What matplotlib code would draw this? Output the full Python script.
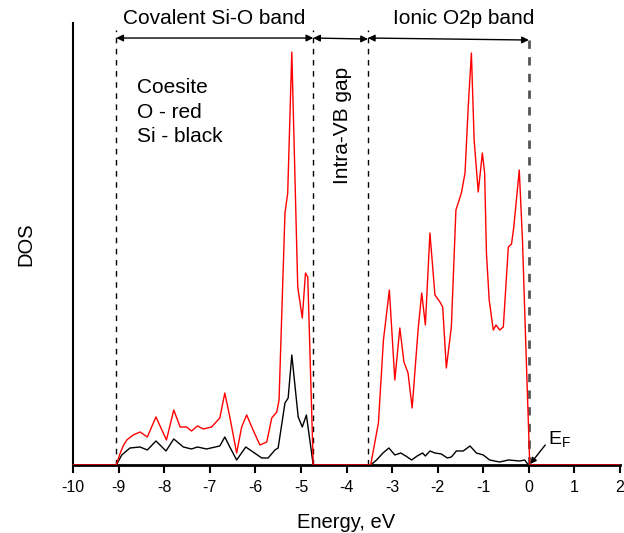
import numpy as np
import matplotlib
matplotlib.use('Agg')
import matplotlib.pyplot as plt

plt.rcParams['font.family'] = ['Liberation Sans', 'DejaVu Sans']
plt.rcParams['axes.unicode_minus'] = False

# O partial DOS (red), arbitrary units
energy_o = [-10.0, -9.05, -8.98, -8.90, -8.82, -8.68, -8.53, -8.37, -8.18, -7.95, -7.79, -7.65, -7.51,
            -7.40, -7.27, -7.14, -6.96, -6.78, -6.67, -6.56, -6.41, -6.30, -6.19, -6.05,
            -5.90, -5.75, -5.64, -5.53, -5.48, -5.35, -5.29, -5.20, -5.07, -4.97, -4.90,
            -4.85, -4.73,
            -3.47, -3.30, -3.19, -3.06, -2.94, -2.83, -2.74, -2.65, -2.56, -2.43, -2.35,
            -2.27, -2.17, -2.06, -1.95, -1.89, -1.81, -1.70, -1.60, -1.55, -1.48, -1.40,
            -1.33, -1.26, -1.20, -1.11, -1.02, -0.97, -0.93, -0.87, -0.78, -0.72, -0.64,
            -0.56, -0.45, -0.38, -0.33, -0.21, -0.14, -0.07, 0.02, 2.0]
dos_o = [0, 0, 10, 19, 25, 30, 33, 28, 48, 25, 55, 38, 38,
         34, 39, 36, 38, 47, 72, 48, 12, 38, 50, 35,
         20, 23, 47, 53, 65, 252, 272, 413, 178, 147, 192,
         188, 0,
         0, 42, 125, 175, 85, 137, 103, 92, 57, 135, 172,
         140, 232, 170, 163, 158, 97, 138, 255, 262, 272, 292,
         358, 412, 325, 273, 312, 292, 212, 165, 135, 140, 135,
         138, 218, 221, 238, 295, 225, 125, 0, 0]

# Si partial DOS (black)
energy_si = [-10.0, -9.05, -8.93, -8.75, -8.53, -8.37, -8.18, -7.96, -7.79, -7.58, -7.40,
             -7.27, -7.07, -6.78, -6.67, -6.56, -6.41, -6.21, -6.05, -5.86, -5.72, -5.57,
             -5.50, -5.35, -5.28, -5.20, -5.06, -4.97, -4.88, -4.73,
             -3.47, -3.34, -3.20, -3.07, -2.94, -2.81, -2.70, -2.57, -2.45, -2.33, -2.27,
             -2.17, -2.06, -1.92, -1.79, -1.70, -1.59, -1.44, -1.29, -1.15, -1.00, -0.86,
             -0.64, -0.45, -0.20, -0.09, -0.01, 2.0]
dos_si = [0, 0, 10, 17, 18, 15, 24, 14, 26, 18, 16,
          18, 16, 19, 28, 18, 5, 18, 13, 7, 7, 15,
          17, 62, 67, 110, 48, 38, 50, 0,
          0, 5, 12, 17, 10, 12, 9, 5, 9, 12, 9,
          14, 12, 11, 7, 8, 14, 14, 19, 12, 10, 5,
          3, 5, 4, 5, 0, 0]

# band edges, eV
edges = [-9.05, -4.73, -3.53, 0.0]

fig = plt.figure(figsize=(6.24, 5.33), dpi=100)
ax = fig.add_axes([0.117, 0.1276, 0.8766, 0.8292])

ax.plot(energy_si, dos_si, color='black', lw=1.0, zorder=3)
ax.plot(energy_o, dos_o, color='red', lw=1.0, zorder=4)

for e in edges[:3]:
    ax.plot([e, e], [0, 435], color='black', lw=1.0, ls=(0, (4, 4)), zorder=2)
ax.plot([0, 0], [0, 432], color='#555555', lw=2.0, ls=(0, (3, 3)), zorder=2)

ax.set_xlim(-10, 2)
ax.set_ylim(0, 442)
ax.set_xticks(np.arange(-10, 3, 1))
ax.set_yticks([])
ax.tick_params(axis='x', direction='out', length=6, width=1.5, labelsize=11.5, pad=5)
ax.spines['top'].set_visible(False)
ax.spines['right'].set_visible(False)
ax.spines['bottom'].set_linewidth(2)
ax.spines['left'].set_linewidth(1.5)

ax.set_xlabel('Energy, eV', fontsize=14.5, labelpad=13)
ax.set_ylabel('DOS', fontsize=14.5, labelpad=27)

arrow = dict(arrowstyle='<|-|>', color='black', lw=1.0, mutation_scale=10, shrinkA=0, shrinkB=0)
ax.annotate('', xy=(edges[0], 427), xytext=(edges[1], 427), arrowprops=arrow)
ax.annotate('', xy=(edges[1], 427), xytext=(edges[2], 426), arrowprops=arrow)
ax.annotate('', xy=(edges[2], 427), xytext=(edges[3], 425), arrowprops=arrow)

ax.text(-6.91, 447, 'Covalent Si-O band', fontsize=15, ha='center', va='center')
ax.text(-1.43, 447, 'Ionic O2p band', fontsize=15, ha='center', va='center')
ax.text(-4.08, 340, 'Intra-VB gap', fontsize=15, rotation=90, ha='center', va='center')
ax.text(-8.60, 353, 'Coesite\nO - red\nSi - black', fontsize=15, ha='left', va='center',
        linespacing=1.38)

# Fermi level marker
ax.text(0.42, 21, r'$\mathregular{E_F}$', fontsize=14, ha='left', va='baseline')
ax.annotate('', xy=(0.03, 1), xytext=(0.36, 20),
            arrowprops=dict(arrowstyle='-|>', color='black', lw=1.0, mutation_scale=9,
                            shrinkA=0, shrinkB=0))

fig.savefig('out.png', dpi=100)
